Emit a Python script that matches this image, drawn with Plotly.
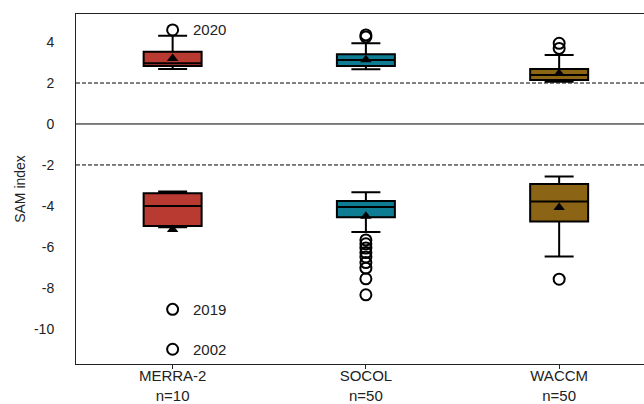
import plotly.graph_objects as go

# Models and sample counts
models = ["MERRA-2", "SOCOL", "WACCM"]
n_events = [10, 50, 50]
colors = ["#B83A30", "#0E7C93", "#8C6415"]

# Positive SAM events: box statistics per model
pos_low = [2.68, 2.67, 2.06]
pos_q1 = [2.83, 2.83, 2.15]
pos_med = [2.96, 3.12, 2.39]
pos_q3 = [3.53, 3.41, 2.68]
pos_high = [4.31, 3.94, 3.37]
pos_mean = [3.20, 3.13, 2.47]

# Negative SAM events: box statistics per model
neg_low = [-5.04, -5.28, -6.47]
neg_q1 = [-4.98, -4.55, -4.76]
neg_med = [-4.00, -4.06, -3.79]
neg_q3 = [-3.38, -3.76, -2.93]
neg_high = [-3.30, -3.33, -2.57]
neg_mean = [-5.15, -4.50, -4.08]

# Outliers per model (positive and negative events)
pos_outliers = [[4.59], [4.35, 4.25], [3.94, 3.69]]
neg_outliers = [
    [-9.05, -11.0],
    [-5.66, -5.85, -6.06, -6.28, -6.50, -6.77, -7.04, -7.56, -8.34],
    [-7.58],
]

# Labelled years for MERRA-2 outliers
year_values = [4.59, -9.05, -11.0]
year_labels = ["2020", "2019", "2002"]

# Reference lines
dashed_levels = [2, -2]
solid_levels = [0]

fig = go.Figure()

box_style = dict(
    line=dict(color="black", width=2),
    whiskerwidth=0.5,
    width=0.3,
    boxpoints=False,
    showlegend=False,
    hoverinfo="skip",
)

for i, m in enumerate(models):
    xpos = i + 1
    fig.add_trace(go.Box(
        x=[xpos], q1=[pos_q1[i]], median=[pos_med[i]], q3=[pos_q3[i]],
        lowerfence=[pos_low[i]], upperfence=[pos_high[i]],
        fillcolor=colors[i], name=m + " +", **box_style))
    fig.add_trace(go.Box(
        x=[xpos], q1=[neg_q1[i]], median=[neg_med[i]], q3=[neg_q3[i]],
        lowerfence=[neg_low[i]], upperfence=[neg_high[i]],
        fillcolor=colors[i], name=m + " -", **box_style))

    outs = pos_outliers[i] + neg_outliers[i]
    fig.add_trace(go.Scatter(
        x=[xpos] * len(outs), y=outs, mode="markers",
        marker=dict(symbol="circle-open", size=11, color="black",
                    line=dict(width=2, color="black")),
        showlegend=False, hoverinfo="skip"))

    fig.add_trace(go.Scatter(
        x=[xpos, xpos], y=[pos_mean[i], neg_mean[i]], mode="markers",
        marker=dict(symbol="triangle-up", size=10, color="black"),
        showlegend=False, hoverinfo="skip"))

for yv, lab in zip(year_values, year_labels):
    fig.add_annotation(x=1, y=yv, text=lab, showarrow=False,
                       xanchor="left", xshift=18,
                       font=dict(size=15, color="#222"))

for lv in dashed_levels:
    fig.add_shape(type="line", xref="paper", x0=0, x1=1, y0=lv, y1=lv,
                  line=dict(color="black", width=1, dash="4px,2px"),
                  layer="below")
for lv in solid_levels:
    fig.add_shape(type="line", xref="paper", x0=0, x1=1, y0=lv, y1=lv,
                  line=dict(color="black", width=1), layer="below")

tick_text = [f"{m}<br>n={n}" for m, n in zip(models, n_events)]

fig.update_layout(
    width=644, height=404,
    margin=dict(l=76, r=0, t=14, b=40),
    plot_bgcolor="white", paper_bgcolor="white",
    boxmode="overlay",
    font=dict(family="Liberation Sans, Arial, sans-serif", color="#222"),
    xaxis=dict(
        range=[0.5, 3.439], tickvals=[1, 2, 3], ticktext=tick_text,
        showgrid=False, zeroline=False, showline=True, mirror=True,
        linecolor="#222", linewidth=1, automargin=False,
        ticks="outside", ticklen=4, tickcolor="#222",
        ticklabelstandoff=-6,
        tickfont=dict(size=15),
    ),
    yaxis=dict(
        range=[-11.72, 5.37], tickvals=[4, 2, 0, -2, -4, -6, -8, -10],
        ticktext=["4", "2", "0", "-2", "-4", "-6", "-8", "-10"],
        showgrid=False, zeroline=False, showline=True, mirror=False,
        linecolor="#222", linewidth=1, ticks="", automargin=False,
        ticklabelstandoff=18, tickfont=dict(size=14),
        title=dict(text="SAM index", font=dict(size=14), standoff=5),
    ),
)

fig.write_html("out.html")
